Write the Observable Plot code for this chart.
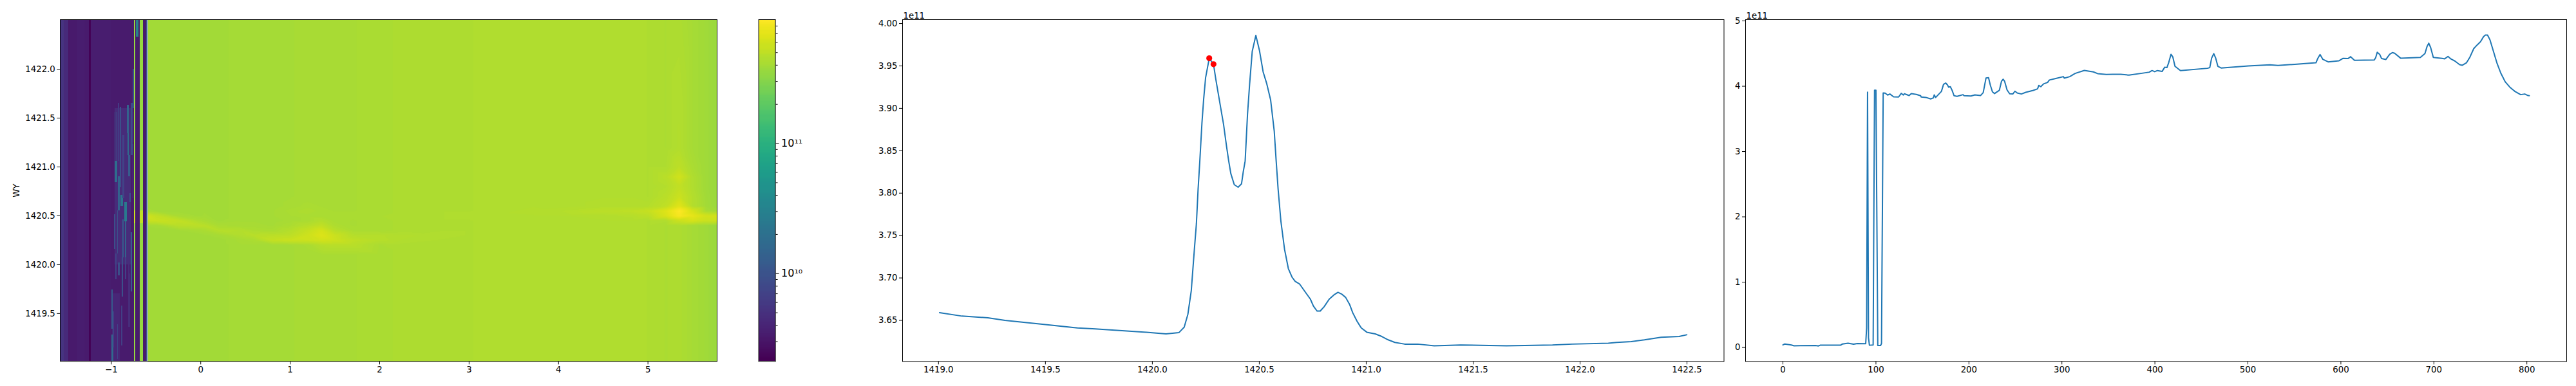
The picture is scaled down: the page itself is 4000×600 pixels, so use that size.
<!DOCTYPE html>
<html>
<head>
<meta charset="utf-8">
<script src="https://cdn.jsdelivr.net/npm/d3@7"></script>
<script src="https://cdn.jsdelivr.net/npm/@observablehq/plot@0.6"></script>
<style>
html,body{margin:0;padding:0;background:#fff;}
#fig{display:flex;width:4000px;height:600px;}
#fig svg{flex:0 0 auto;max-width:none;display:block;}
</style>
</head>
<body>
<div id="fig"></div>
<script>
// ---------- colour range ----------
const colorMin = 2.11e9;
const colorMax = 8.96e11;

// ---------- heatmap: samples (x, y) values in units of 1e11 ----------
const heatCols = [-0.59,-0.5,-0.25,0,0.04,0.2,0.45,0.6,0.8,1.0,1.2,1.35,1.5,1.7,2.0,2.26,2.68,3.0,3.72,4.0,4.5,4.8,5.0,5.2,5.35,5.5,5.65,5.773];
const heatRows = [1419.0,1420.1,1420.2,1420.25,1420.3,1420.35,1420.4,1420.45,1420.5,1420.55,1420.6,1420.7,1420.8,1420.9,1421.0,1421.2,1422.51];
const heatValues = [
 [3.85,3.85,3.85,3.85,3.9,3.85,4.0,4.0,3.95,4.0,4.05,4.1,4.1,4.1,4.15,4.25,4.3,4.3,4.4,4.35,4.4,4.4,4.3,4.2,4.25,4.0,3.8,3.55],
 [3.85,3.85,3.85,3.85,3.9,3.85,4.0,4.0,3.95,4.0,4.05,4.1,4.1,4.1,4.15,4.25,4.3,4.3,4.4,4.35,4.4,4.4,4.3,4.2,4.25,4.0,3.8,3.55],
 [3.85,3.85,3.85,3.85,3.9,3.85,4.0,4.0,3.95,4.0,4.15,4.6,4.7,4.7,4.2,4.25,4.3,4.3,4.4,4.35,4.4,4.4,4.3,4.2,4.25,4.0,3.8,3.55],
 [3.85,3.85,3.85,3.85,3.9,3.85,4.05,4.2,5.2,5.5,5.6,5.9,5.6,5.0,4.6,4.4,4.3,4.3,4.4,4.35,4.4,4.4,4.3,4.2,4.25,4.0,3.8,3.55],
 [3.85,3.85,3.85,3.85,3.9,4.0,4.4,4.7,4.8,4.9,5.7,6.5,5.5,4.6,4.55,4.45,4.35,4.3,4.4,4.35,4.4,4.4,4.3,4.2,4.25,4.0,3.8,3.55],
 [3.85,3.85,3.9,4.1,4.15,4.6,4.5,4.25,4.15,4.55,5.3,6.1,4.7,4.2,4.15,4.25,4.3,4.3,4.4,4.35,4.4,4.4,4.3,4.2,4.25,4.0,3.8,3.55],
 [3.95,4.0,4.7,4.8,4.75,4.15,4.05,4.05,4.0,4.2,4.65,5.1,4.3,4.1,4.15,4.25,4.3,4.3,4.4,4.35,4.4,4.4,4.3,4.2,4.25,4.0,3.8,3.55],
 [5.4,5.4,5.1,4.25,4.15,3.9,4.0,4.0,3.95,4.05,4.15,4.5,4.15,4.1,4.15,4.25,4.3,4.3,4.4,4.35,4.4,4.4,4.3,4.35,5.5,6.1,5.5,5.5],
 [5.7,5.1,4.1,3.9,3.95,3.85,4.0,4.0,4.0,4.1,4.15,4.15,4.15,4.15,4.2,4.25,4.3,4.35,4.4,4.4,4.45,4.55,4.8,6.3,8.4,7.1,5.9,5.9],
 [4.05,3.9,3.85,3.85,3.9,3.85,4.0,4.0,4.0,4.15,4.3,4.15,4.1,4.1,4.15,4.25,4.3,4.3,4.45,4.5,4.8,4.95,5.3,6.6,8.9,6.1,4.1,3.85],
 [3.85,3.85,3.85,3.85,3.9,3.85,4.0,4.0,3.95,4.05,4.15,4.1,4.1,4.1,4.15,4.25,4.3,4.3,4.4,4.35,4.45,4.45,4.5,5.0,6.7,4.5,3.9,3.6],
 [3.85,3.85,3.85,3.85,3.9,3.85,4.0,4.0,3.95,4.0,4.05,4.1,4.1,4.1,4.15,4.25,4.3,4.3,4.4,4.35,4.4,4.4,4.3,4.7,5.5,4.5,3.85,3.55],
 [3.85,3.85,3.85,3.85,3.9,3.85,4.0,4.0,3.95,4.0,4.05,4.1,4.1,4.1,4.15,4.25,4.3,4.3,4.4,4.35,4.4,4.4,4.3,4.5,5.1,4.35,3.8,3.55],
 [3.85,3.85,3.85,3.85,3.9,3.85,4.0,4.0,3.95,4.0,4.05,4.1,4.1,4.1,4.15,4.25,4.3,4.3,4.4,4.35,4.4,4.4,4.3,4.7,5.8,4.35,3.8,3.55],
 [3.85,3.85,3.85,3.85,3.9,3.85,4.0,4.0,3.95,4.0,4.05,4.1,4.1,4.1,4.15,4.25,4.3,4.3,4.4,4.35,4.4,4.4,4.3,4.3,4.9,4.15,3.8,3.55],
 [3.85,3.85,3.85,3.85,3.9,3.85,4.0,4.0,3.95,4.0,4.05,4.1,4.1,4.1,4.15,4.25,4.3,4.3,4.4,4.35,4.4,4.4,4.3,4.2,4.45,4.0,3.8,3.55],
 [3.85,3.85,3.85,3.85,3.9,3.85,4.0,4.0,3.95,4.0,4.05,4.1,4.1,4.1,4.15,4.25,4.3,4.3,4.4,4.35,4.4,4.4,4.3,4.2,4.25,4.0,3.8,3.55]
];

// vertical full-height bands left of the bright region
const bandX1 = [-1.569,-1.53,-1.475,-1.46,-1.375,-1.3,-1.25,-1.225,-1.0,-0.745,-0.728,-0.678,-0.644,-0.608];
const bandX2 = [-1.53,-1.475,-1.46,-1.375,-1.3,-1.25,-1.225,-1.0,-0.745,-0.728,-0.678,-0.644,-0.608,-0.59];
const bandV  = [5.2e9,4.3e9,3.0e9,3.2e9,3.4e9,3.3e9,2.2e9,3.4e9,3.3e9,3.4e11,3.3e9,3.4e11,3.3e9,1.0e10];

// short streaks inside the dark region
const streakX1 = [-0.96,-0.99,-0.961,-0.956,-0.940,-0.925,-0.899,-0.925,-0.897,-0.872,-0.853,-0.820,-0.817,-0.805,-0.793,-0.776,-0.764,-0.964,-0.932,-0.872,-0.844,-0.781,-0.920,-0.949,-0.877,-0.844,-0.992,-0.992,-0.980,-0.932,-0.884,-0.805,-0.757,-0.793,-0.755,-0.745,-0.678,-0.720];
const streakX2 = [-0.78,-0.90,-0.949,-0.932,-0.928,-0.911,-0.887,-0.901,-0.868,-0.853,-0.824,-0.801,-0.801,-0.786,-0.776,-0.757,-0.752,-0.949,-0.920,-0.858,-0.829,-0.767,-0.901,-0.940,-0.863,-0.829,-0.978,-0.973,-0.968,-0.920,-0.872,-0.796,-0.748,-0.784,-0.745,-0.728,-0.644,-0.695];
const streakY1 = [1420.0,1419.01,1420.90,1420.84,1421.06,1421.06,1420.79,1420.55,1420.60,1420.68,1420.44,1421.34,1421.12,1420.90,1420.64,1421.12,1421.25,1420.16,1420.11,1420.07,1420.02,1419.72,1419.89,1419.85,1419.67,1419.85,1419.34,1419.01,1419.15,1419.03,1419.17,1419.36,1420.68,1419.36,1421.60,1420.42,1420.42,1422.33];
const streakY2 = [1421.6,1419.7,1421.56,1421.06,1421.56,1421.65,1421.61,1420.90,1420.71,1421.32,1420.64,1421.63,1421.34,1421.12,1420.73,1421.65,1421.56,1420.51,1420.55,1420.46,1420.44,1420.33,1420.02,1420.11,1420.07,1420.07,1419.74,1419.28,1419.52,1419.39,1419.58,1420.42,1421.23,1419.91,1422.00,1420.55,1420.55,1422.51];
const streakV  = [4.4e9,4e9,0.9e10,1.8e10,0.9e10,6e9,0.9e10,1.4e10,2.2e10,7e9,2.5e10,1.4e10,1.8e10,1.2e10,0.9e10,0.8e10,6e9,0.9e10,0.9e10,1.2e10,1.4e10,1.2e10,0.9e10,7e9,0.9e10,7e9,1.2e10,1.6e10,6.5e9,7e9,6.5e9,4.5e9,6e9,4.5e9,0.9e10,5.5e11,5.0e11,3e10];

const heatXTicks = [-1,0,1,2,3,4,5];
const heatYTicks = [1419.5,1420,1420.5,1421,1421.5,1422];
const barMajor = [1e10,1e11];
const barMinor = [3e9,4e9,5e9,6e9,7e9,8e9,9e9,2e10,3e10,4e10,5e10,6e10,7e10,8e10,9e10,2e11,3e11,4e11,5e11,6e11,7e11,8e11];

// ---------- middle panel ----------
const sliceX = [1419.005,1419.11,1419.231,1419.311,1419.5,1419.65,1419.733,1419.973,1420.064,1420.124,1420.149,1420.166,1420.182,1420.196,1420.206,1420.214,1420.222,1420.232,1420.24,1420.249,1420.266,1420.286,1420.297,1420.32,1420.333,1420.347,1420.357,1420.367,1420.383,1420.401,1420.417,1420.425,1420.434,1420.437,1420.445,1420.455,1420.467,1420.484,1420.501,1420.518,1420.535,1420.553,1420.57,1420.579,1420.588,1420.601,1420.618,1420.636,1420.653,1420.668,1420.688,1420.719,1420.739,1420.753,1420.77,1420.785,1420.803,1420.827,1420.849,1420.868,1420.885,1420.904,1420.922,1420.937,1420.957,1420.977,1421.003,1421.042,1421.073,1421.103,1421.134,1421.18,1421.241,1421.318,1421.441,1421.656,1421.871,1421.963,1422.132,1422.171,1422.24,1422.301,1422.379,1422.463,1422.499];
const sliceY = [3.659,3.655,3.653,3.650,3.645,3.641,3.640,3.636,3.634,3.6355,3.642,3.657,3.685,3.732,3.764,3.805,3.838,3.883,3.911,3.936,3.959,3.952,3.934,3.900,3.881,3.855,3.838,3.823,3.810,3.807,3.811,3.825,3.838,3.853,3.893,3.929,3.967,3.986,3.968,3.943,3.929,3.910,3.873,3.838,3.805,3.767,3.734,3.711,3.701,3.696,3.693,3.682,3.675,3.667,3.661,3.661,3.666,3.675,3.680,3.683,3.681,3.677,3.669,3.659,3.649,3.641,3.636,3.634,3.631,3.627,3.624,3.622,3.622,3.620,3.621,3.620,3.621,3.622,3.623,3.624,3.625,3.627,3.630,3.631,3.633];
const peakX = [1420.266,1420.286];
const peakY = [3.959,3.952];
const sliceXTicks = [1419,1419.5,1420,1420.5,1421,1421.5,1422,1422.5];
const sliceYTicks = [3.65,3.7,3.75,3.8,3.85,3.9,3.95,4.0];

// ---------- right panel ----------
const meanX = [0,2,9,12,35,38,40,62,64,70,76,80,89,90,91,92,93,97,98.5,100,102,105,106,107.8,109.9,112.6,115,119,124.4,127.2,129.5,130.6,135.7,138,143.4,148,148.7,153.7,158.8,161.8,162.7,164.3,170.4,172.7,175,176.8,178.2,180,181.9,184,187.2,193.7,194.8,202.2,206.4,212.6,215.4,218.4,221.1,223,225.3,227.6,232.7,235,236.8,238.4,241,243.8,247.2,249.5,251.9,256.4,261.1,269.2,273.8,275.2,277.3,280.3,284.6,286.5,293.4,301.5,302.6,308.4,314.2,324.1,333.8,338.4,347.7,354.6,363.3,372.1,389.6,394,396.9,399.8,402.7,407.7,410.6,412.9,414.9,417.3,419.3,421.6,424.6,427.5,456.6,459,461,463.3,465.4,467.7,471.2,500.4,523.7,532.4,552.8,573.2,575.3,577.6,580.5,586.3,598,602.4,607.6,610.5,614.6,635.9,637.4,639.1,641.7,643.8,648.4,652.5,655.4,657.8,664.2,685.5,690.4,692.7,694.5,696.5,699.4,708.8,711.7,715.2,718.4,722.5,727.7,730.6,735,738.8,742.9,746.7,750.2,753.4,755.4,757.7,760.4,764.2,768,772,776.7,781.7,787.5,793.3,797.7,800.6,802.6];
const meanY = [0.038,0.053,0.038,0.026,0.03,0.023,0.034,0.034,0.053,0.064,0.049,0.06,0.057,0.30,3.91,0.15,0.034,0.038,3.94,3.94,0.03,0.03,0.06,3.898,3.894,3.865,3.881,3.838,3.835,3.891,3.865,3.885,3.858,3.888,3.875,3.855,3.835,3.829,3.806,3.822,3.868,3.829,3.92,4.029,4.049,4.023,3.986,3.993,3.937,3.855,3.845,3.871,3.855,3.851,3.868,3.858,3.904,4.127,4.131,4.018,3.914,3.888,3.937,4.075,4.107,4.075,3.944,3.885,3.881,3.924,3.897,3.881,3.907,3.937,3.96,4.013,3.993,4.036,4.058,4.095,4.118,4.147,4.124,4.147,4.196,4.242,4.22,4.193,4.18,4.183,4.183,4.17,4.206,4.216,4.24,4.223,4.24,4.226,4.292,4.285,4.364,4.489,4.447,4.305,4.272,4.24,4.275,4.285,4.43,4.499,4.43,4.305,4.279,4.311,4.328,4.318,4.338,4.36,4.43,4.485,4.413,4.373,4.39,4.427,4.423,4.452,4.397,4.403,4.437,4.521,4.489,4.423,4.41,4.489,4.515,4.505,4.43,4.442,4.501,4.61,4.659,4.594,4.442,4.427,4.42,4.456,4.417,4.387,4.331,4.321,4.358,4.447,4.577,4.634,4.683,4.758,4.784,4.784,4.708,4.528,4.348,4.2,4.068,3.986,3.917,3.871,3.881,3.861,3.855];
const meanXTicks = [0,100,200,300,400,500,600,700,800];
const meanYTicks = [0,1,2,3,4,5];

// ---------- common styling ----------
const textStyle = {fontFamily:"'DejaVu Sans'", fontSize:"13.3px", color:"#000", background:"#fff", overflow:"visible"};
const lineBlue = "#1f77b4";
const colorScale = {type:"log", scheme:"viridis", domain:[colorMin,colorMax]};
const fig = document.getElementById("fig");

// table of the heatmap samples
const heatSamples = [];
heatRows.forEach((y,j)=>heatCols.forEach((x,i)=>heatSamples.push({x,y,v:heatValues[j][i]*1e11})));

// ---------- panel 1: heatmap ----------
fig.append(Plot.plot({
  width:1140, height:600,
  marginLeft:93.3, marginRight:27, marginTop:30, marginBottom:38.6,
  style:textStyle,
  x:{domain:[-1.569,5.773]},
  y:{domain:[1419.009,1422.508]},
  color:colorScale,
  marks:[
    Plot.raster(heatSamples,{x:"x",y:"y",fill:"v",x1:-0.59,x2:5.773,y1:1419.009,y2:1422.508,interpolate:"barycentric",pixelSize:1}),
    Plot.rect(bandV,{x1:bandX1,x2:bandX2,fill:bandV,shapeRendering:"crispEdges"}),
    Plot.rect(streakV,{x1:streakX1,x2:streakX2,y1:streakY1,y2:streakY2,fill:streakV,shapeRendering:"crispEdges"}),
    Plot.frame({stroke:"#000",strokeWidth:1}),
    Plot.axisX({ticks:heatXTicks,tickSize:5,tickPadding:3,label:null,tickFormat:d3.format("d")}),
    Plot.axisY({ticks:heatYTicks,tickSize:5,tickPadding:3,tickFormat:d3.format(".1f"),label:"WY",labelAnchor:"center",labelArrow:"none",labelOffset:73})
  ]
}));

// ---------- colour bar ----------
const barLevels = d3.range(256).map(i=>colorMin*Math.pow(colorMax/colorMin,i/256));
const barNext = d3.range(256).map(i=>colorMin*Math.pow(colorMax/colorMin,(i+1)/256));
const superscript = {[1e10]:"10¹⁰",[1e11]:"10¹¹"};
fig.append(Plot.plot({
  width:200, height:600,
  marginLeft:37.6, marginRight:136.4, marginTop:30, marginBottom:38.6,
  style:textStyle,
  y:{type:"log",domain:[colorMin,colorMax]},
  color:colorScale,
  marks:[
    Plot.rect(barLevels,{y1:barLevels,y2:barNext,fill:barLevels,shapeRendering:"crispEdges"}),
    Plot.frame({stroke:"#000",strokeWidth:1}),
    Plot.axisY({anchor:"right",ticks:barMinor,tickSize:3,tickFormat:()=>"",label:null}),
    Plot.axisY({anchor:"right",ticks:barMajor,tickSize:5,tickPadding:4,tickFormat:d=>superscript[d],label:null,fontSize:16})
  ]
}));

// ---------- panel 2: spectrum slice ----------
fig.append(Plot.plot({
  width:1344, height:600,
  marginLeft:61, marginRight:7.5, marginTop:30, marginBottom:38.6,
  style:textStyle,
  x:{domain:[1418.832,1422.673]},
  y:{domain:[3.6015,4.0046]},
  marks:[
    Plot.frame({stroke:"#000",strokeWidth:1}),
    Plot.line(sliceX,{x:sliceX,y:sliceY,stroke:lineBlue,strokeWidth:2}),
    Plot.dot(peakX,{x:peakX,y:peakY,r:4.6,fill:"#ff0000"}),
    Plot.axisX({ticks:sliceXTicks,tickSize:5,tickPadding:3,tickFormat:d3.format(".1f"),label:null}),
    Plot.axisY({ticks:sliceYTicks,tickSize:5,tickPadding:3,tickFormat:d3.format(".2f"),label:null}),
    Plot.text(["1e11"],{frameAnchor:"top-left",textAnchor:"start",lineAnchor:"bottom",dy:-2,dx:1,fill:"#000"})
  ]
}));

// ---------- panel 3: column mean ----------
fig.append(Plot.plot({
  width:1316, height:600,
  marginLeft:26, marginRight:15, marginTop:30, marginBottom:38.6,
  style:textStyle,
  x:{domain:[-40.2,842.8]},
  y:{domain:[-0.215,5.02]},
  marks:[
    Plot.frame({stroke:"#000",strokeWidth:1}),
    Plot.line(meanX,{x:meanX,y:meanY,stroke:lineBlue,strokeWidth:2}),
    Plot.axisX({ticks:meanXTicks,tickSize:5,tickPadding:3,tickFormat:d3.format("d"),label:null}),
    Plot.axisY({ticks:meanYTicks,tickSize:5,tickPadding:3,tickFormat:d3.format("d"),label:null}),
    Plot.text(["1e11"],{frameAnchor:"top-left",textAnchor:"start",lineAnchor:"bottom",dy:-2,dx:1,fill:"#000"})
  ]
}));
</script>
</body>
</html>
